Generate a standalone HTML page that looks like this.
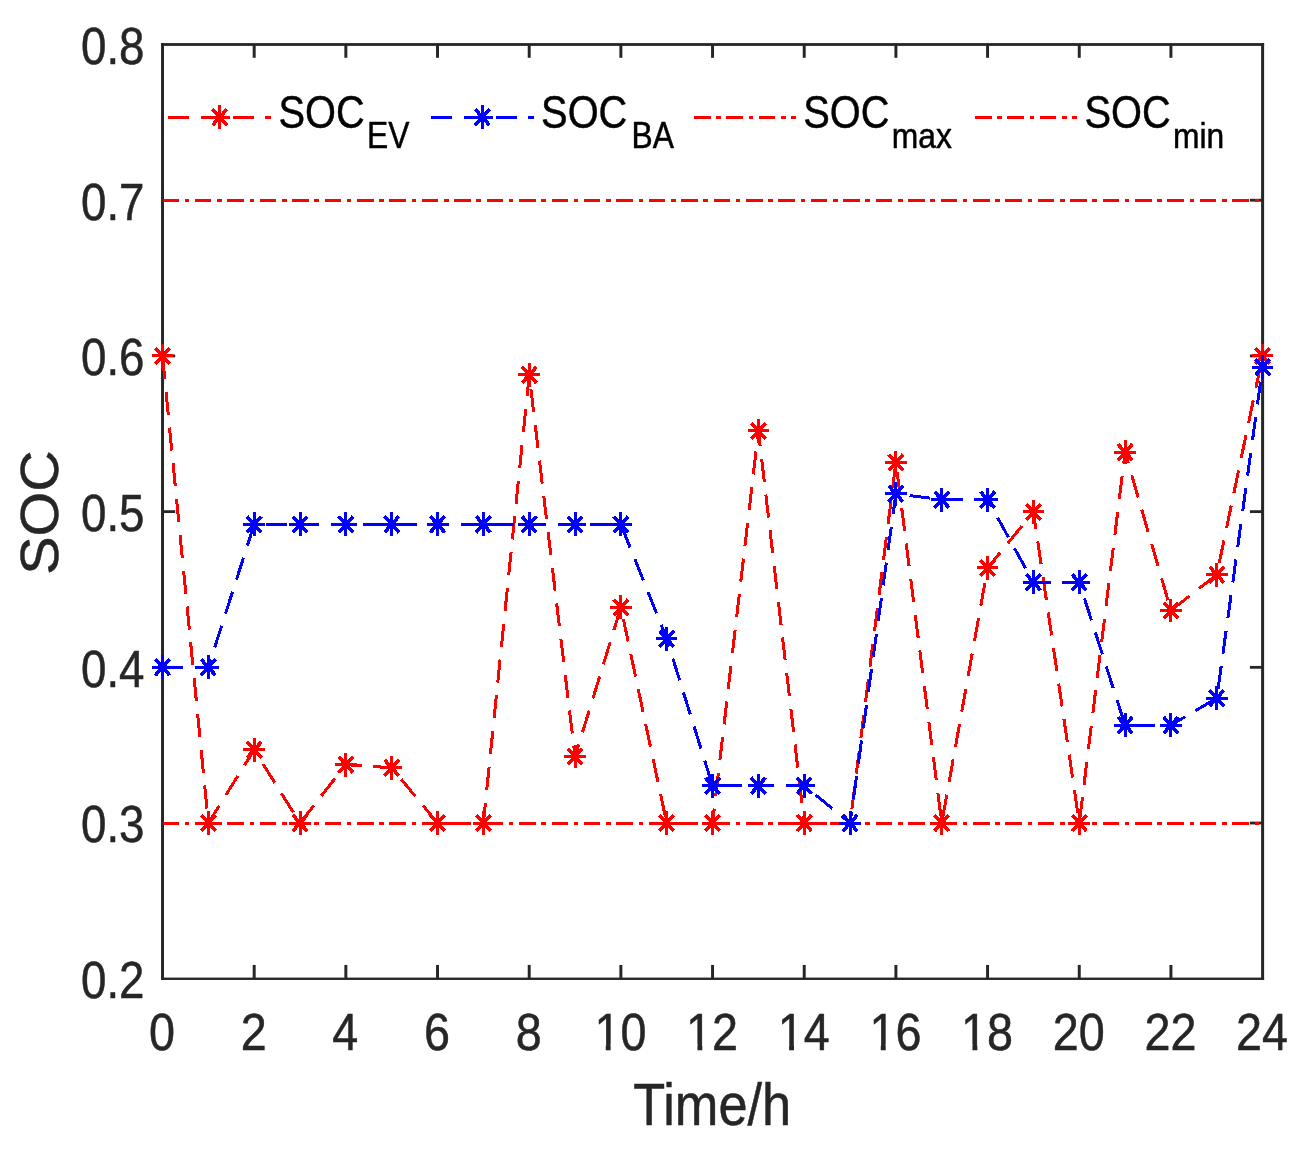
<!DOCTYPE html>
<html lang="en"><head><meta charset="utf-8"><title>SOC</title>
<style>html,body{margin:0;padding:0;background:#fff}body{width:1303px;height:1158px;overflow:hidden}svg{display:block}text{font-family:"Liberation Sans",sans-serif;fill:#262626;stroke:#262626;stroke-width:0.5px;stroke-linejoin:round}.k text{fill:#000;stroke:#000}</style></head><body>
<svg width="1303" height="1158" viewBox="0 0 1303 1158">
<rect width="1303" height="1158" fill="#fff"/>
<g fill="#262626">
<rect x="161.05" y="43.1" width="1103.05" height="2.8"/>
<rect x="161.05" y="977.6" width="1103.05" height="2.35"/>
<rect x="161.05" y="43.1" width="2.95" height="936.85"/>
<rect x="1261.1" y="43.1" width="3" height="936.85"/>
<rect x="252.7" y="964.95" width="2.96" height="13.8"/>
<rect x="252.7" y="44.5" width="2.96" height="13.3"/>
<rect x="344.37" y="964.95" width="2.96" height="13.8"/>
<rect x="344.37" y="44.5" width="2.96" height="13.3"/>
<rect x="436.04" y="964.95" width="2.96" height="13.8"/>
<rect x="436.04" y="44.5" width="2.96" height="13.3"/>
<rect x="527.72" y="964.95" width="2.96" height="13.8"/>
<rect x="527.72" y="44.5" width="2.96" height="13.3"/>
<rect x="619.39" y="964.95" width="2.96" height="13.8"/>
<rect x="619.39" y="44.5" width="2.96" height="13.3"/>
<rect x="711.07" y="964.95" width="2.96" height="13.8"/>
<rect x="711.07" y="44.5" width="2.96" height="13.3"/>
<rect x="802.74" y="964.95" width="2.96" height="13.8"/>
<rect x="802.74" y="44.5" width="2.96" height="13.3"/>
<rect x="894.42" y="964.95" width="2.96" height="13.8"/>
<rect x="894.42" y="44.5" width="2.96" height="13.3"/>
<rect x="986.09" y="964.95" width="2.96" height="13.8"/>
<rect x="986.09" y="44.5" width="2.96" height="13.3"/>
<rect x="1077.77" y="964.95" width="2.96" height="13.8"/>
<rect x="1077.77" y="44.5" width="2.96" height="13.3"/>
<rect x="1169.44" y="964.95" width="2.96" height="13.8"/>
<rect x="1169.44" y="44.5" width="2.96" height="13.3"/>
<rect x="162.5" y="822.14" width="12.7" height="1.8"/>
<rect x="1249.9" y="821.64" width="12.7" height="2.8"/>
<rect x="162.5" y="665.93" width="12.7" height="2.8"/>
<rect x="1249.9" y="665.93" width="12.7" height="2.8"/>
<rect x="162.5" y="510.23" width="12.7" height="2.8"/>
<rect x="1249.9" y="510.23" width="12.7" height="2.8"/>
<rect x="162.5" y="354.52" width="12.7" height="2.8"/>
<rect x="1249.9" y="354.52" width="12.7" height="2.8"/>
<rect x="162.5" y="199.31" width="12.7" height="1.8"/>
<rect x="1249.9" y="198.81" width="12.7" height="2.8"/>
</g>
<g fill="none" stroke-width="3" shape-rendering="crispEdges">
<path d="M162.5 200.21L179.05 200.21M184.71 200.21L189.3 200.21M194.92 200.21L211.47 200.21M217.13 200.21L221.72 200.21M227.34 200.21L243.89 200.21M249.55 200.21L254.14 200.21M259.75 200.21L276.31 200.21M281.97 200.21L286.56 200.21M292.17 200.21L308.72 200.21M314.38 200.21L318.97 200.21M324.59 200.21L341.14 200.21M346.8 200.21L351.39 200.21M357.01 200.21L373.56 200.21M379.22 200.21L383.81 200.21M389.43 200.21L405.98 200.21M411.64 200.21L416.23 200.21M421.84 200.21L438.39 200.21M444.06 200.21L448.65 200.21M454.26 200.21L470.81 200.21M476.47 200.21L481.06 200.21M486.68 200.21L503.23 200.21M508.89 200.21L513.48 200.21M519.1 200.21L535.65 200.21M541.31 200.21L545.9 200.21M551.52 200.21L568.07 200.21M573.73 200.21L578.32 200.21M583.93 200.21L600.49 200.21M606.15 200.21L610.74 200.21M616.35 200.21L632.9 200.21M638.56 200.21L643.15 200.21M648.77 200.21L665.32 200.21M670.98 200.21L675.57 200.21M681.19 200.21L697.74 200.21M703.4 200.21L707.99 200.21M713.61 200.21L730.16 200.21M735.82 200.21L740.41 200.21M746.02 200.21L762.58 200.21M768.24 200.21L772.83 200.21M778.44 200.21L794.99 200.21M800.65 200.21L805.24 200.21M810.86 200.21L827.41 200.21M833.07 200.21L837.66 200.21M843.28 200.21L859.83 200.21M865.49 200.21L870.08 200.21M875.7 200.21L892.25 200.21M897.91 200.21L902.5 200.21M908.11 200.21L924.67 200.21M930.33 200.21L934.92 200.21M940.53 200.21L957.08 200.21M962.74 200.21L967.33 200.21M972.95 200.21L989.5 200.21M995.16 200.21L999.75 200.21M1005.37 200.21L1021.92 200.21M1027.58 200.21L1032.17 200.21M1037.79 200.21L1054.34 200.21M1060 200.21L1064.59 200.21M1070.2 200.21L1086.75 200.21M1092.42 200.21L1097.01 200.21M1102.62 200.21L1119.17 200.21M1124.83 200.21L1129.42 200.21M1135.04 200.21L1151.59 200.21M1157.25 200.21L1161.84 200.21M1167.46 200.21L1184.01 200.21M1189.67 200.21L1194.26 200.21M1199.88 200.21L1216.43 200.21M1222.09 200.21L1226.68 200.21M1232.29 200.21L1248.84 200.21M1254.51 200.21L1259.1 200.21" stroke="#ff0000"/>
<path d="M162.5 823.04L179.05 823.04M184.71 823.04L189.3 823.04M194.92 823.04L211.47 823.04M217.13 823.04L221.72 823.04M227.34 823.04L243.89 823.04M249.55 823.04L254.14 823.04M259.75 823.04L276.31 823.04M281.97 823.04L286.56 823.04M292.17 823.04L308.72 823.04M314.38 823.04L318.97 823.04M324.59 823.04L341.14 823.04M346.8 823.04L351.39 823.04M357.01 823.04L373.56 823.04M379.22 823.04L383.81 823.04M389.43 823.04L405.98 823.04M411.64 823.04L416.23 823.04M421.84 823.04L438.39 823.04M444.06 823.04L448.65 823.04M454.26 823.04L470.81 823.04M476.47 823.04L481.06 823.04M486.68 823.04L503.23 823.04M508.89 823.04L513.48 823.04M519.1 823.04L535.65 823.04M541.31 823.04L545.9 823.04M551.52 823.04L568.07 823.04M573.73 823.04L578.32 823.04M583.93 823.04L600.49 823.04M606.15 823.04L610.74 823.04M616.35 823.04L632.9 823.04M638.56 823.04L643.15 823.04M648.77 823.04L665.32 823.04M670.98 823.04L675.57 823.04M681.19 823.04L697.74 823.04M703.4 823.04L707.99 823.04M713.61 823.04L730.16 823.04M735.82 823.04L740.41 823.04M746.02 823.04L762.58 823.04M768.24 823.04L772.83 823.04M778.44 823.04L794.99 823.04M800.65 823.04L805.24 823.04M810.86 823.04L827.41 823.04M833.07 823.04L837.66 823.04M843.28 823.04L859.83 823.04M865.49 823.04L870.08 823.04M875.7 823.04L892.25 823.04M897.91 823.04L902.5 823.04M908.11 823.04L924.67 823.04M930.33 823.04L934.92 823.04M940.53 823.04L957.08 823.04M962.74 823.04L967.33 823.04M972.95 823.04L989.5 823.04M995.16 823.04L999.75 823.04M1005.37 823.04L1021.92 823.04M1027.58 823.04L1032.17 823.04M1037.79 823.04L1054.34 823.04M1060 823.04L1064.59 823.04M1070.2 823.04L1086.75 823.04M1092.42 823.04L1097.01 823.04M1102.62 823.04L1119.17 823.04M1124.83 823.04L1129.42 823.04M1135.04 823.04L1151.59 823.04M1157.25 823.04L1161.84 823.04M1167.46 823.04L1184.01 823.04M1189.67 823.04L1194.26 823.04M1199.88 823.04L1216.43 823.04M1222.09 823.04L1226.68 823.04M1232.29 823.04L1248.84 823.04M1254.51 823.04L1259.1 823.04" stroke="#ff0000"/>
<path d="M162.5 355.92L164.76 378.97M166.01 391.71L168.27 414.76M169.52 427.51L171.79 450.56M173.04 463.3L175.3 486.35M176.55 499.1L178.81 522.15M180.06 534.89L182.32 557.94M183.57 570.69L185.84 593.74M187.09 606.48L189.35 629.53M190.6 642.28L192.86 665.33M194.11 678.07L196.37 701.12M197.62 713.87L199.89 736.92M201.14 749.66L203.4 772.71M204.65 785.46L206.91 808.51M208.16 821.25L208.34 823.04L219.33 805.49M225.92 794.97L237.84 775.93M244.43 765.41L254.18 749.86L256.36 753.34M262.94 763.86L274.87 782.89M281.46 793.41L293.38 812.45M299.97 822.97L300.01 823.04L313.68 805.63M321.26 795.97L334.98 778.5M342.56 768.84L345.85 764.65L361.69 765.73M373.2 766.51L391.69 767.77L393.28 769.69M401.1 779.11L415.24 796.17M423.06 805.59L437.2 822.65M448.58 823.04L469.45 823.04M480.99 823.04L483.36 823.04L485.45 802.62M486.75 789.89L489.11 766.85M490.41 754.11L492.77 731.07M494.07 718.34L496.43 695.29M497.73 682.56L500.09 659.52M501.39 646.78L503.75 623.74M505.05 611L507.41 587.96M508.71 575.23L511.07 552.19M512.37 539.45L514.73 516.41M516.03 503.67L518.39 480.63M519.69 467.9L522.05 444.86M523.35 432.12L525.71 409.08M527.01 396.34L529.2 374.91L529.39 376.52M530.92 389.22L533.68 412.21M535.21 424.91L537.97 447.9M539.49 460.6L542.25 483.59M543.78 496.3L546.54 519.28M548.07 531.99L550.83 554.97M552.35 567.68L555.11 590.66M556.64 603.37L559.4 626.35M560.93 639.06L563.69 662.04M565.21 674.75L567.97 697.73M569.5 710.44L572.26 733.42M573.79 746.13L575.04 756.55L578.72 744.56M582.45 732.43L589.19 710.49M592.92 698.36L599.66 676.41M603.39 664.28L610.14 642.33M613.86 630.21L620.61 608.26M623.34 618.96L628.13 641.53M630.78 654L635.58 676.57M638.23 689.05L643.03 711.62M645.68 724.09L650.48 746.66M653.13 759.13L657.93 781.7M660.58 794.18L665.37 816.75M672.43 823.04L693.3 823.04M704.83 823.04L712.55 823.04L714.24 808.55M715.73 795.84L718.42 772.84M719.9 760.13L722.59 737.14M724.08 724.43L726.77 701.43M728.25 688.72L730.94 665.72M732.43 653.01L735.12 630.01M736.6 617.3L739.29 594.31M740.78 581.6L743.47 558.6M744.95 545.89L747.64 522.89M749.13 510.18L751.82 487.19M753.3 474.48L755.99 451.48M757.48 438.77L758.39 430.97L760.16 446.16M761.65 458.87L764.34 481.87M765.82 494.58L768.51 517.58M770 530.29L772.69 553.28M774.17 566L776.86 588.99M778.35 601.7L781.04 624.7M782.52 637.41L785.21 660.41M786.7 673.12L789.39 696.11M790.87 708.82L793.56 731.82M795.05 744.53L797.73 767.53M799.22 780.24L801.91 803.23M803.4 815.94L804.22 823.04L818.65 823.04M830.19 823.04L850.06 823.04L850.2 821.94M851.82 809.25L854.73 786.29M856.35 773.6L859.27 750.64M860.88 737.95L863.8 714.98M865.41 702.29L868.33 679.33M869.94 666.64L872.86 643.68M874.47 630.99L877.39 608.02M879.01 595.33L881.92 572.37M883.54 559.68L886.46 536.72M888.07 524.03L890.99 501.06M892.6 488.37L895.52 465.41M897.13 472.12L900.05 495.08M901.66 507.78L904.58 530.74M906.2 543.43L909.12 566.39M910.73 579.08L913.65 602.04M915.26 614.73L918.18 637.7M919.79 650.39L922.71 673.35M924.32 686.04L927.24 709M928.86 721.69L931.77 744.66M933.39 757.35L936.31 780.31M937.92 793L940.84 815.96M942.74 817.48L946.82 794.74M949.08 782.17L953.17 759.43M955.43 746.86L959.52 724.12M961.77 711.55L965.86 688.81M968.12 676.24L972.21 653.5M974.47 640.93L978.55 618.19M980.81 605.62L984.9 582.88M987.16 570.31L987.57 567.99L1000.18 552.58M1007.93 543.09L1021.97 525.93M1029.73 516.45L1033.41 511.94L1035.9 528.81M1037.76 541.46L1041.13 564.34M1043 576.99L1046.37 599.88M1048.23 612.53L1051.61 635.41M1053.47 648.06L1056.84 670.95M1058.7 683.59L1062.08 706.48M1063.94 719.13L1067.31 742.01M1069.18 754.66L1072.55 777.55M1074.41 790.2L1077.78 813.08M1079.58 820.34L1082.42 797.37M1083.99 784.67L1086.83 761.7M1088.4 749L1091.24 726.02M1092.81 713.33L1095.65 690.35M1097.22 677.65L1100.06 654.68M1101.63 641.98L1104.47 619.01M1106.04 606.31L1108.87 583.33M1110.44 570.64L1113.28 547.66M1114.85 534.96L1117.69 511.99M1119.26 499.29L1122.1 476.32M1123.67 463.62L1125.09 452.14L1128.29 463.19M1131.82 475.4L1138.21 497.47M1141.74 509.67L1148.13 531.75M1151.66 543.95L1158.05 566.03M1161.58 578.23L1167.97 600.3M1172.48 609.29L1189.55 595.95M1198.99 588.58L1216.06 575.24M1219.18 563.14L1223.92 540.55M1226.53 528.07L1231.26 505.48M1233.88 493L1238.61 470.41M1241.23 457.93L1245.96 435.34M1248.57 422.86L1253.31 400.27M1255.92 387.79L1260.65 365.2" stroke="#ff0000"/>
<path d="M162.5 344.02V367.82M151.75 355.92H173.25M208.34 811.14V834.94M197.58 823.04H219.09M254.18 737.96V761.76M243.42 749.86H264.93M300.01 811.14V834.94M289.26 823.04H310.77M345.85 752.75V776.55M335.1 764.65H356.61M391.69 755.87V779.67M380.93 767.77H402.44M437.52 811.14V834.94M426.77 823.04H448.28M483.36 811.14V834.94M472.61 823.04H494.12M529.2 363.01V386.81M518.45 374.91H539.96M575.04 744.65V768.45M564.28 756.55H585.79M620.88 595.49V619.29M610.12 607.39H631.63M666.71 811.14V834.94M655.96 823.04H677.47M712.55 811.14V834.94M701.79 823.04H723.3M758.39 419.07V442.87M747.63 430.97H769.14M804.22 811.14V834.94M793.47 823.04H814.98M850.06 811.14V834.94M839.31 823.04H860.82M895.9 450.52V474.32M885.14 462.42H906.65M941.74 811.14V834.94M930.98 823.04H952.49M987.57 556.09V579.89M976.82 567.99H998.33M1033.41 500.04V523.84M1022.66 511.94H1044.17M1079.25 811.14V834.94M1068.49 823.04H1090.01M1125.09 440.24V464.04M1114.33 452.14H1135.84M1170.92 598.6V622.4M1160.17 610.5H1181.68M1216.76 562.79V586.59M1206.01 574.69H1227.52M1262.6 344.02V367.82M1251.84 355.92H1273.36" stroke="#ff0000" stroke-width="3" fill="none" shape-rendering="crispEdges"/><path d="M155.3 347.92L169.7 363.92M155.3 363.92L169.7 347.92M201.14 815.04L215.54 831.04M201.14 831.04L215.54 815.04M246.98 741.86L261.38 757.86M246.98 757.86L261.38 741.86M292.81 815.04L307.21 831.04M292.81 831.04L307.21 815.04M338.65 756.65L353.05 772.65M338.65 772.65L353.05 756.65M384.49 759.77L398.89 775.77M384.49 775.77L398.89 759.77M430.32 815.04L444.72 831.04M430.32 831.04L444.72 815.04M476.16 815.04L490.56 831.04M476.16 831.04L490.56 815.04M522 366.91L536.4 382.91M522 382.91L536.4 366.91M567.84 748.55L582.24 764.55M567.84 764.55L582.24 748.55M613.67 599.39L628.08 615.39M613.67 615.39L628.08 599.39M659.51 815.04L673.91 831.04M659.51 831.04L673.91 815.04M705.35 815.04L719.75 831.04M705.35 831.04L719.75 815.04M751.19 422.97L765.59 438.97M751.19 438.97L765.59 422.97M797.02 815.04L811.42 831.04M797.02 831.04L811.42 815.04M842.86 815.04L857.26 831.04M842.86 831.04L857.26 815.04M888.7 454.42L903.1 470.42M888.7 470.42L903.1 454.42M934.54 815.04L948.94 831.04M934.54 831.04L948.94 815.04M980.37 559.99L994.77 575.99M980.37 575.99L994.77 559.99M1026.21 503.94L1040.61 519.94M1026.21 519.94L1040.61 503.94M1072.05 815.04L1086.45 831.04M1072.05 831.04L1086.45 815.04M1117.89 444.14L1132.29 460.14M1117.89 460.14L1132.29 444.14M1163.72 602.5L1178.12 618.5M1163.72 618.5L1178.12 602.5M1209.56 566.69L1223.96 582.69M1209.56 582.69L1223.96 566.69M1255.4 347.92L1269.8 363.92M1255.4 363.92L1269.8 347.92" stroke="#ff0000" stroke-width="3.6" fill="none" shape-rendering="crispEdges"/>
<path d="M162.5 667.33L183.37 667.33M194.91 667.33L208.34 667.33L210.83 659.55M214.71 647.47L221.71 625.63M225.58 613.55L232.59 591.71M236.46 579.64L243.46 557.79M247.34 545.72L254.18 524.39L254.67 524.39M266.21 524.39L287.08 524.39M298.61 524.39L300.01 524.39L319.48 524.39M331.02 524.39L345.85 524.39L351.89 524.39M363.43 524.39L384.3 524.39M395.83 524.39L416.7 524.39M428.24 524.39L437.52 524.39L449.11 524.39M460.64 524.39L481.52 524.39M493.05 524.39L513.92 524.39M525.46 524.39L529.2 524.39L546.33 524.39M557.86 524.39L575.04 524.39L578.73 524.39M590.27 524.39L611.14 524.39M621.61 526.22L630.09 547.41M634.78 559.12L643.27 580.3M647.96 592.01L656.44 613.2M661.13 624.91L666.71 638.84L669.06 646.35M672.84 658.45L679.68 680.36M683.46 692.47L690.3 714.38M694.08 726.49L700.92 748.4M704.7 760.51L711.54 782.42M720.99 785.67L741.86 785.67M753.39 785.67L758.39 785.67L774.27 785.67M785.8 785.67L804.22 785.67L806.2 787.28M815.5 794.86L832.33 808.58M841.63 816.16L850.06 823.04L851.65 811.61M853.42 798.95L856.61 776.03M858.37 763.37L861.56 740.45M863.33 727.78L866.52 704.86M868.28 692.2L871.47 669.28M873.24 656.61L876.43 633.7M878.19 621.03L881.38 598.11M883.15 585.45L886.34 562.53M888.1 549.86L891.29 526.95M893.06 514.28L895.9 493.87L898.17 494.16M909.63 495.6L930.37 498.21M941.84 499.64L962.71 499.64M974.24 499.64L987.57 499.64L991.53 506.77M997.58 517.68L1008.53 537.42M1014.57 548.34L1025.52 568.08M1031.57 579L1033.41 582.32L1050.77 582.32M1062.31 582.32L1079.25 582.32L1080.57 586.43M1084.45 598.5L1091.46 620.34M1095.33 632.41L1102.34 654.26M1106.22 666.33L1113.23 688.17M1117.11 700.24L1124.12 722.08M1133.74 725.1L1154.61 725.1M1166.15 725.1L1170.92 725.1L1185.15 716.74M1195.35 710.75L1213.8 699.91M1218.01 689.18L1221.18 666.26M1222.94 653.59L1226.11 630.67M1227.87 618L1231.04 595.08M1232.8 582.42L1235.97 559.5M1237.73 546.83L1240.9 523.91M1242.66 511.24L1245.83 488.32M1247.59 475.65L1250.76 452.73M1252.52 440.07L1255.69 417.14M1257.45 404.48L1260.62 381.56M1262.38 368.89L1262.6 367.28" stroke="#0000ff"/>
<path d="M162.5 655.43V679.23M151.75 667.33H173.25M208.34 655.43V679.23M197.58 667.33H219.09M254.18 512.49V536.29M243.42 524.39H264.93M300.01 512.49V536.29M289.26 524.39H310.77M345.85 512.49V536.29M335.1 524.39H356.61M391.69 512.49V536.29M380.93 524.39H402.44M437.52 512.49V536.29M426.77 524.39H448.28M483.36 512.49V536.29M472.61 524.39H494.12M529.2 512.49V536.29M518.45 524.39H539.96M575.04 512.49V536.29M564.28 524.39H585.79M620.88 512.49V536.29M610.12 524.39H631.63M666.71 626.94V650.74M655.96 638.84H677.47M712.55 773.77V797.57M701.79 785.67H723.3M758.39 773.77V797.57M747.63 785.67H769.14M804.22 773.77V797.57M793.47 785.67H814.98M850.06 811.14V834.94M839.31 823.04H860.82M895.9 481.97V505.77M885.14 493.87H906.65M941.74 487.74V511.54M930.98 499.64H952.49M987.57 487.74V511.54M976.82 499.64H998.33M1033.41 570.42V594.22M1022.66 582.32H1044.17M1079.25 570.42V594.22M1068.49 582.32H1090.01M1125.09 713.2V737M1114.33 725.1H1135.84M1170.92 713.2V737M1160.17 725.1H1181.68M1216.76 686.26V710.06M1206.01 698.16H1227.52M1262.6 355.38V379.18M1251.84 367.28H1273.36" stroke="#0000ff" stroke-width="3" fill="none" shape-rendering="crispEdges"/><path d="M155.3 659.33L169.7 675.33M155.3 675.33L169.7 659.33M201.14 659.33L215.54 675.33M201.14 675.33L215.54 659.33M246.98 516.39L261.38 532.39M246.98 532.39L261.38 516.39M292.81 516.39L307.21 532.39M292.81 532.39L307.21 516.39M338.65 516.39L353.05 532.39M338.65 532.39L353.05 516.39M384.49 516.39L398.89 532.39M384.49 532.39L398.89 516.39M430.32 516.39L444.72 532.39M430.32 532.39L444.72 516.39M476.16 516.39L490.56 532.39M476.16 532.39L490.56 516.39M522 516.39L536.4 532.39M522 532.39L536.4 516.39M567.84 516.39L582.24 532.39M567.84 532.39L582.24 516.39M613.67 516.39L628.08 532.39M613.67 532.39L628.08 516.39M659.51 630.84L673.91 646.84M659.51 646.84L673.91 630.84M705.35 777.67L719.75 793.67M705.35 793.67L719.75 777.67M751.19 777.67L765.59 793.67M751.19 793.67L765.59 777.67M797.02 777.67L811.42 793.67M797.02 793.67L811.42 777.67M842.86 815.04L857.26 831.04M842.86 831.04L857.26 815.04M888.7 485.87L903.1 501.87M888.7 501.87L903.1 485.87M934.54 491.64L948.94 507.64M934.54 507.64L948.94 491.64M980.37 491.64L994.77 507.64M980.37 507.64L994.77 491.64M1026.21 574.32L1040.61 590.32M1026.21 590.32L1040.61 574.32M1072.05 574.32L1086.45 590.32M1072.05 590.32L1086.45 574.32M1117.89 717.1L1132.29 733.1M1117.89 733.1L1132.29 717.1M1163.72 717.1L1178.12 733.1M1163.72 733.1L1178.12 717.1M1209.56 690.16L1223.96 706.16M1209.56 706.16L1223.96 690.16M1255.4 359.28L1269.8 375.28M1255.4 375.28L1269.8 359.28" stroke="#0000ff" stroke-width="3.6" fill="none" shape-rendering="crispEdges"/>
<path d="M168.2 117.3L189.07 117.3M200.61 117.3L221.48 117.3M233.01 117.3L253.88 117.3M265.42 117.3L271.1 117.3" stroke="#ff0000"/>
<path d="M431.2 117.3L452.07 117.3M463.61 117.3L484.48 117.3M496.01 117.3L516.88 117.3M528.42 117.3L533.6 117.3" stroke="#0000ff"/>
<path d="M694 117.3L710.55 117.3M716.21 117.3L720.8 117.3M726.42 117.3L742.97 117.3M748.63 117.3L753.22 117.3M758.84 117.3L775.39 117.3M781.05 117.3L785.64 117.3M791.25 117.3L796.4 117.3" stroke="#ff0000"/>
<path d="M975 117.3L991.55 117.3M997.21 117.3L1001.8 117.3M1007.42 117.3L1023.97 117.3M1029.63 117.3L1034.22 117.3M1039.84 117.3L1056.39 117.3M1062.05 117.3L1066.64 117.3M1072.25 117.3L1077.4 117.3" stroke="#ff0000"/>
</g>
<path d="M219.65 105.4V129.2M208.9 117.3H230.41" stroke="#ff0000" stroke-width="3" fill="none" shape-rendering="crispEdges"/><path d="M212.45 109.3L226.85 125.3M212.45 125.3L226.85 109.3" stroke="#ff0000" stroke-width="3.6" fill="none" shape-rendering="crispEdges"/>
<path d="M482.4 105.4V129.2M471.64 117.3H493.15" stroke="#0000ff" stroke-width="3" fill="none" shape-rendering="crispEdges"/><path d="M475.2 109.3L489.6 125.3M475.2 125.3L489.6 109.3" stroke="#0000ff" stroke-width="3.6" fill="none" shape-rendering="crispEdges"/>
<text transform="translate(162,1050.3) scale(0.9050,1)" font-size="51.65" text-anchor="middle">0</text>
<text transform="translate(253.68,1050.3) scale(0.9050,1)" font-size="51.65" text-anchor="middle">2</text>
<text transform="translate(345.35,1050.3) scale(0.9050,1)" font-size="51.65" text-anchor="middle">4</text>
<text transform="translate(437.02,1050.3) scale(0.9050,1)" font-size="51.65" text-anchor="middle">6</text>
<text transform="translate(528.7,1050.3) scale(0.9050,1)" font-size="51.65" text-anchor="middle">8</text>
<text transform="translate(620.38,1050.3) scale(0.9050,1)" font-size="51.65" text-anchor="middle">10</text>
<text transform="translate(712.05,1050.3) scale(0.9050,1)" font-size="51.65" text-anchor="middle">12</text>
<text transform="translate(803.72,1050.3) scale(0.9050,1)" font-size="51.65" text-anchor="middle">14</text>
<text transform="translate(895.4,1050.3) scale(0.9050,1)" font-size="51.65" text-anchor="middle">16</text>
<text transform="translate(987.07,1050.3) scale(0.9050,1)" font-size="51.65" text-anchor="middle">18</text>
<text transform="translate(1078.75,1050.3) scale(0.9050,1)" font-size="51.65" text-anchor="middle">20</text>
<text transform="translate(1170.42,1050.3) scale(0.9050,1)" font-size="51.65" text-anchor="middle">22</text>
<text transform="translate(1262.1,1050.3) scale(0.9050,1)" font-size="51.65" text-anchor="middle">24</text>
<g fill="#fff">
<rect x="596.45" y="1044.3" width="9.29" height="7.1"/>
<rect x="610.65" y="1044.3" width="8.57" height="7.1"/>
<rect x="688.13" y="1044.3" width="9.29" height="7.1"/>
<rect x="702.32" y="1044.3" width="8.57" height="7.1"/>
<rect x="779.8" y="1044.3" width="9.29" height="7.1"/>
<rect x="794" y="1044.3" width="8.57" height="7.1"/>
<rect x="871.48" y="1044.3" width="9.29" height="7.1"/>
<rect x="885.67" y="1044.3" width="8.57" height="7.1"/>
<rect x="963.15" y="1044.3" width="9.29" height="7.1"/>
<rect x="977.35" y="1044.3" width="8.57" height="7.1"/>
</g>
<text transform="translate(144.5,998.05) scale(0.8850,1)" font-size="51.65" text-anchor="end">0.2</text>
<text transform="translate(144.5,842.34) scale(0.8850,1)" font-size="51.65" text-anchor="end">0.3</text>
<text transform="translate(144.5,686.63) scale(0.8850,1)" font-size="51.65" text-anchor="end">0.4</text>
<text transform="translate(144.5,530.93) scale(0.8850,1)" font-size="51.65" text-anchor="end">0.5</text>
<text transform="translate(144.5,375.22) scale(0.8850,1)" font-size="51.65" text-anchor="end">0.6</text>
<text transform="translate(144.5,219.51) scale(0.8850,1)" font-size="51.65" text-anchor="end">0.7</text>
<text transform="translate(144.5,63.8) scale(0.8850,1)" font-size="51.65" text-anchor="end">0.8</text>
<text transform="translate(712.2,1124.6) scale(0.8840,1)" font-size="59.2" text-anchor="middle">Time/h</text>
<text transform="translate(58.3,512.5) rotate(-90) scale(1.0000,0.9300)" font-size="57.5" text-anchor="middle">SOC</text>
<g class="k">
<text transform="translate(278.5,127.7) scale(0.8690,1)" font-size="45.8">SOC</text>
<text transform="translate(367,147.6) scale(0.8760,1)" font-size="36.3">EV</text>
<text transform="translate(541.1,127.7) scale(0.8690,1)" font-size="45.8">SOC</text>
<text transform="translate(631.5,147.6) scale(0.8760,1)" font-size="36.3">BA</text>
<text transform="translate(803.3,127.7) scale(0.8690,1)" font-size="45.8">SOC</text>
<text transform="translate(891.8,147.6) scale(0.9085,1)" font-size="35">max</text>
<text transform="translate(1084.5,127.7) scale(0.8690,1)" font-size="45.8">SOC</text>
<text transform="translate(1172.9,147.6) scale(0.9085,1)" font-size="35">min</text>
</g>
</svg></body></html>
